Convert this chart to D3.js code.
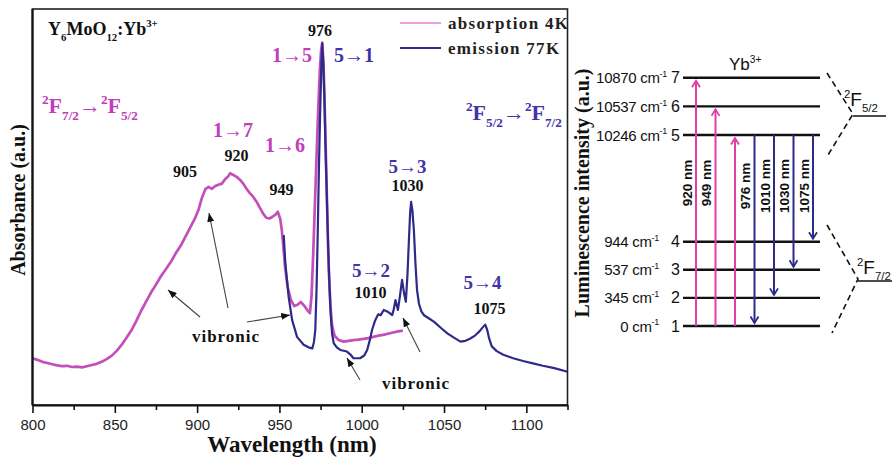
<!DOCTYPE html>
<html>
<head>
<meta charset="utf-8">
<script src="https://cdn.jsdelivr.net/npm/d3@7"></script>
<style>
  body { margin: 0; background: #fff; }
  svg { display: block; }
</style>
</head>
<body>
<svg id="chart" width="893" height="458"></svg>
<script>
// ---- spectra (wavelength in nm, intensity in arbitrary units) ----
const absWavelength = [800, 803, 806, 809, 812, 815, 818, 821, 824, 827, 830, 833, 836, 839, 842, 845, 848, 851, 854, 857, 860, 863, 866, 869, 872, 875, 878, 881, 884, 887, 890, 893, 896, 899, 901, 903, 905, 907, 909, 911, 913, 915, 917, 919, 920, 922, 924, 926, 928, 930, 932, 934, 936, 938, 940, 942, 944, 946, 948, 949, 950.5, 951.5, 952.5, 953.5, 955, 957, 959, 961, 963, 965, 967, 968.5, 969.5, 970.5, 971.5, 972.5, 973.5, 974.5, 975.3, 976, 976.8, 977.6, 978.4, 979.2, 980, 981, 982, 983.5, 986, 989, 992, 995, 998, 1001, 1004, 1007, 1010, 1013, 1016, 1019, 1022, 1025];
const absValue      = [11.8, 11.4, 10.9, 10.6, 10.3, 10.0, 9.8, 9.9, 9.6, 9.7, 9.5, 9.8, 10.1, 10.4, 10.9, 11.6, 12.4, 13.6, 15.1, 16.9, 18.8, 21.2, 23.8, 26.1, 28.4, 30.4, 32.5, 34.3, 36.1, 38.3, 40.2, 42.6, 45.0, 47.4, 49.5, 52.4, 54.5, 55.1, 54.6, 55.3, 55.6, 55.9, 57.0, 57.8, 58.5, 58.1, 57.6, 56.9, 55.9, 54.6, 53.5, 52.6, 51.4, 49.9, 48.4, 47.3, 47.1, 47.6, 48.2, 48.8, 47.0, 44.0, 39.5, 34.5, 29.8, 26.5, 25.0, 25.3, 26.0, 25.1, 23.9, 23.2, 27.5, 38.0, 50.0, 62.0, 74.0, 84.0, 89.5, 91.5, 86.0, 74.0, 60.0, 46.0, 34.0, 25.0, 20.0, 17.5, 16.4, 16.0, 16.2, 16.4, 16.5, 16.7, 16.9, 17.2, 17.5, 17.7, 18.0, 18.3, 18.6, 18.8];

const emWavelength = [952.6, 953.6, 955.6, 957.7, 960.7, 964.7, 968, 970, 971, 971.8, 972.6, 973.3, 974, 974.8, 975.5, 976, 976.6, 977.3, 978, 978.8, 979.6, 980.4, 981.2, 982, 983, 985, 987, 991, 993, 995, 999, 1001.5, 1003.3, 1005, 1006.3, 1008, 1010, 1011.5, 1013.4, 1015.5, 1017, 1018.5, 1019.5, 1020.5, 1022, 1023.2, 1024.5, 1025.8, 1026.8, 1027.8, 1028.7, 1029.4, 1030, 1030.8, 1031.7, 1032.6, 1033.6, 1034.8, 1036.3, 1038, 1040, 1044, 1048, 1052, 1056, 1060, 1063, 1066, 1069, 1071.5, 1073.5, 1075, 1076.2, 1077.4, 1079, 1082, 1086, 1092, 1098, 1104, 1110, 1117, 1125];
const emValue      = [42.9, 35.8, 27.3, 21.5, 17.2, 15.2, 14.5, 14.3, 16.0, 19.0, 30.0, 44.0, 60.0, 75.0, 86.0, 91.3, 87.0, 78.0, 65.0, 52.6, 40.0, 30.0, 22.5, 18.0, 15.6, 14.5, 13.9, 13.5, 12.8, 11.8, 11.8, 12.5, 13.9, 16.5, 19.0, 21.2, 22.9, 22.7, 24.0, 23.6, 23.2, 22.7, 24.2, 26.5, 24.0, 27.5, 31.6, 28.0, 26.1, 33.0, 42.0, 48.5, 51.3, 49.0, 44.0, 36.0, 29.0, 25.5, 23.6, 22.6, 22.1, 21.0, 19.5, 18.1, 17.0, 16.0, 16.2, 16.8, 17.6, 18.6, 19.6, 20.3, 19.0, 16.8, 14.8, 13.6, 12.7, 11.8, 11.1, 10.5, 9.9, 9.3, 8.4];

const xMajorTicks = [800, 850, 900, 950, 1000, 1050, 1100];
const xMinorTicks = [825, 875, 925, 975, 1025, 1075, 1125];

// ---- Yb3+ energy levels ----
const levelIndex  = [1, 2, 3, 4, 5, 6, 7];
const levelEnergy = ["0", "345", "537", "944", "10246", "10537", "10870"];
const transitions = [
  { kind: "abs", from: 1, to: 7, label: "920 nm" },
  { kind: "abs", from: 1, to: 6, label: "949 nm" },
  { kind: "abs", from: 1, to: 5, label: "" },
  { kind: "em",  from: 5, to: 1, label: "976 nm" },
  { kind: "em",  from: 5, to: 2, label: "1010 nm" },
  { kind: "em",  from: 5, to: 3, label: "1030 nm" },
  { kind: "em",  from: 5, to: 4, label: "1075 nm" }
];

const SERIF = "'Liberation Serif', 'Times New Roman', serif";
const SANS = "'Liberation Sans', Arial, sans-serif";
const MAGENTA = "#bb3cb2";
const MAGENTA_TXT = "#c23cbc";
const NAVY = "#2d2a88";
const NAVY_TXT = "#4234a8";
const PINK = "#e23ea6";

const svg = d3.select("#chart");

const defs = svg.append("defs");
defs.append("marker")
  .attr("id", "headBlack").attr("viewBox", "0 0 10 8")
  .attr("refX", 10).attr("refY", 4)
  .attr("markerUnits", "userSpaceOnUse")
  .attr("markerWidth", 9).attr("markerHeight", 7)
  .attr("orient", "auto")
  .append("path").attr("d", "M0,0 L10,4 L0,8 Z").attr("fill", "#111");
[["headPink", PINK], ["headNavy", NAVY]].forEach(([id, c]) => {
  defs.append("marker")
    .attr("id", id).attr("viewBox", "-1 -5 9 10")
    .attr("refX", 6.5).attr("refY", 0)
    .attr("markerUnits", "userSpaceOnUse")
    .attr("markerWidth", 9).attr("markerHeight", 10)
    .attr("orient", "auto")
    .append("path").attr("d", "M0,-4 L6.5,0 L0,4")
    .attr("fill", "none").attr("stroke", c).attr("stroke-width", 1.8);
});

// rich text with sub/superscripts
function rich(sel, parts, size) {
  let shift = 0;
  parts.forEach(p => {
    const target = p.sub ? size * 0.32 : p.sup ? -size * 0.42 : 0;
    sel.append("tspan")
      .attr("dy", target - shift)
      .attr("font-size", (p.sub || p.sup) ? size * 0.6 : size)
      .text(p.t);
    shift = target;
  });
  return sel;
}

// ---- spectrum panel ----
const plot = { left: 32.5, right: 567.5, top: 9, bottom: 405 };
const x = d3.scaleLinear().domain([800, 1125]).range([plot.left, plot.right]);
const y = d3.scaleLinear().domain([0, 100]).range([plot.bottom, plot.top]);

const g = svg.append("g");

const line = d3.line().x(d => x(d[0])).y(d => y(d[1]));
const absData = absWavelength.map((w, i) => [w, absValue[i]]);
const emData = emWavelength.map((w, i) => [w, emValue[i]]);

g.append("path").datum(absData)
  .attr("d", line).attr("fill", "none")
  .attr("stroke", MAGENTA).attr("stroke-width", 2.7)
  .attr("stroke-linejoin", "round").attr("opacity", 0.9);
g.append("path").datum(emData)
  .attr("d", line).attr("fill", "none")
  .attr("stroke", NAVY).attr("stroke-width", 2.2)
  .attr("stroke-linejoin", "round");

// frame
g.append("rect")
  .attr("x", plot.left).attr("y", plot.top)
  .attr("width", plot.right - plot.left).attr("height", plot.bottom - plot.top)
  .attr("fill", "none").attr("stroke", "#222").attr("stroke-width", 1.6);

// bottom axis
const xAxis = d3.axisBottom(x).tickValues(xMajorTicks).tickFormat(d3.format("d"))
  .tickSize(8).tickSizeOuter(0).tickPadding(6);
const axG = g.append("g").attr("transform", `translate(0,${plot.bottom})`).call(xAxis);
axG.select(".domain").attr("stroke", "#111").attr("stroke-width", 2);
axG.selectAll(".tick line").attr("stroke", "#111").attr("stroke-width", 1.6);
axG.selectAll(".tick text")
  .attr("font-family", SANS).attr("font-size", 15).attr("fill", "#222");
g.append("g").attr("transform", `translate(0,${plot.bottom})`)
  .call(d3.axisBottom(x).tickValues(xMinorTicks).tickSize(5).tickFormat(""))
  .call(s => s.select(".domain").remove())
  .selectAll(".tick line").attr("stroke", "#111").attr("stroke-width", 1.6);
// left edge heavier
g.append("line")
  .attr("x1", plot.left).attr("x2", plot.left)
  .attr("y1", plot.top).attr("y2", plot.bottom)
  .attr("stroke", "#111").attr("stroke-width", 2.2);

// axis titles
svg.append("text")
  .attr("x", 292).attr("y", 452).attr("text-anchor", "middle")
  .attr("font-family", SERIF).attr("font-weight", "bold").attr("font-size", 23)
  .attr("fill", "#111").text("Wavelength (nm)");
svg.append("text")
  .attr("transform", "translate(25,200) rotate(-90)").attr("text-anchor", "middle")
  .attr("font-family", SERIF).attr("font-weight", "bold").attr("font-size", 20)
  .attr("fill", "#111").text("Absorbance (a.u.)");
svg.append("text")
  .attr("transform", "translate(589,193) rotate(-90)").attr("text-anchor", "middle")
  .attr("font-family", SERIF).attr("font-weight", "bold").attr("font-size", 20)
  .attr("fill", "#111").text("Luminescence intensity (a.u.)");

// legend
const legend = [
  { label: "absorption 4K", color: "#e57fd6", width: 1.6, y: 23 },
  { label: "emission 77K", color: NAVY, width: 2.2, y: 48 }
];
legend.forEach(d => {
  svg.append("line").attr("x1", 400).attr("x2", 441).attr("y1", d.y).attr("y2", d.y)
    .attr("stroke", d.color).attr("stroke-width", d.width);
  svg.append("text").attr("x", 448).attr("y", d.y + 5.5)
    .attr("font-family", SERIF).attr("font-weight", "bold").attr("font-size", 17)
    .attr("letter-spacing", 1.3).attr("fill", "#222").text(d.label);
});

// compound and manifold labels
rich(svg.append("text").attr("x", 48).attr("y", 35)
  .attr("font-family", SERIF).attr("font-weight", "bold").attr("fill", "#111"),
  [{ t: "Y" }, { t: "6", sub: true }, { t: "MoO" }, { t: "12", sub: true }, { t: ":Yb" }, { t: "3+", sup: true }], 18);
rich(svg.append("text").attr("x", 42).attr("y", 113)
  .attr("font-family", SERIF).attr("font-weight", "bold").attr("fill", MAGENTA_TXT),
  [{ t: "2", sup: true }, { t: "F" }, { t: "7/2", sub: true }, { t: "\u2192" }, { t: "2", sup: true }, { t: "F" }, { t: "5/2", sub: true }], 22);
rich(svg.append("text").attr("x", 466).attr("y", 120)
  .attr("font-family", SERIF).attr("font-weight", "bold").attr("fill", NAVY_TXT),
  [{ t: "2", sup: true }, { t: "F" }, { t: "5/2", sub: true }, { t: "\u2192" }, { t: "2", sup: true }, { t: "F" }, { t: "7/2", sub: true }], 22);

// peak annotations
const notes = [
  { t: "976",  x: 320,   y: 36,  c: "#111", s: 16 },
  { t: "1\u21925", x: 292, y: 62, c: MAGENTA_TXT, s: 20 },
  { t: "5\u21921", x: 354, y: 62, c: NAVY_TXT, s: 20 },
  { t: "1\u21927", x: 233, y: 137, c: MAGENTA_TXT, s: 20 },
  { t: "920",  x: 236.5, y: 161, c: "#111", s: 16 },
  { t: "905",  x: 185,   y: 177, c: "#111", s: 16 },
  { t: "1\u21926", x: 285, y: 152, c: MAGENTA_TXT, s: 20 },
  { t: "949",  x: 281.5, y: 195, c: "#111", s: 16 },
  { t: "5\u21923", x: 407.5, y: 173, c: NAVY_TXT, s: 19 },
  { t: "1030", x: 407.5, y: 191, c: "#111", s: 16 },
  { t: "5\u21922", x: 371, y: 277, c: NAVY_TXT, s: 19 },
  { t: "1010", x: 370.5, y: 298, c: "#111", s: 16 },
  { t: "5\u21924", x: 482.5, y: 289, c: NAVY_TXT, s: 19 },
  { t: "1075", x: 489.5, y: 314, c: "#111", s: 16 },
  { t: "vibronic", x: 226, y: 342, c: "#111", s: 17, ls: 1 },
  { t: "vibronic", x: 416, y: 389, c: "#111", s: 17, ls: 1 }
];
svg.selectAll("text.note").data(notes).join("text")
  .attr("class", "note")
  .attr("x", d => d.x).attr("y", d => d.y)
  .attr("text-anchor", "middle")
  .attr("font-family", SERIF).attr("font-weight", "bold")
  .attr("font-size", d => d.s).attr("letter-spacing", d => d.ls || 0)
  .attr("fill", d => d.c).text(d => d.t);

// pointers to the vibronic features
const pointers = [
  [200, 317, 168, 290],
  [228, 308, 209, 213],
  [247, 322, 290, 315],
  [360, 380, 347, 358],
  [420, 352, 403, 318]
];
svg.selectAll("line.pointer").data(pointers).join("line")
  .attr("class", "pointer")
  .attr("x1", d => d[0]).attr("y1", d => d[1])
  .attr("x2", d => d[2]).attr("y2", d => d[3])
  .attr("stroke", "#444").attr("stroke-width", 1.1)
  .attr("marker-end", "url(#headBlack)");

// ---- energy level diagram ----
const levelY = i => i <= 4
  ? d3.scaleLinear().domain([1, 4]).range([326, 241.7])(i)
  : d3.scaleLinear().domain([5, 7]).range([135, 77.7])(i);
const levelX = [683, 820];
const arrowX = d3.scalePoint().domain(d3.range(transitions.length)).range([696, 813]);

const diag = svg.append("g");
diag.selectAll("line.level").data(levelIndex).join("line")
  .attr("class", "level")
  .attr("x1", levelX[0]).attr("x2", levelX[1])
  .attr("y1", d => levelY(d)).attr("y2", d => levelY(d))
  .attr("stroke", "#111").attr("stroke-width", 2.4);

levelIndex.forEach((n, i) => {
  const yy = levelY(n) + 5.5;
  diag.append("text").attr("x", 680).attr("y", yy).attr("text-anchor", "end")
    .attr("font-family", SANS).attr("font-size", 16).attr("fill", "#111").text(n);
  const t = diag.append("text").attr("x", n >= 5 ? 667 : 659).attr("y", yy)
    .attr("text-anchor", "end").attr("font-family", SANS).attr("fill", "#111")
    .attr("letter-spacing", -0.3);
  rich(t, [{ t: levelEnergy[i] + " cm" }, { t: "-1", sup: true }], 15);
});

rich(diag.append("text").attr("x", 729).attr("y", 70)
  .attr("font-family", SANS).attr("fill", "#111"),
  [{ t: "Yb" }, { t: "3+", sup: true }], 17);

transitions.forEach((tr, i) => {
  const ax = arrowX(i);
  const isAbs = tr.kind === "abs";
  const yStart = levelY(tr.from);
  const yEnd = levelY(tr.to) + (isAbs ? 3 : -3);
  diag.append("line")
    .attr("x1", ax).attr("x2", ax).attr("y1", yStart).attr("y2", yEnd)
    .attr("stroke", isAbs ? PINK : NAVY).attr("stroke-width", 2)
    .attr("marker-end", `url(#${isAbs ? "headPink" : "headNavy"})`);
  if (tr.label) {
    diag.append("text")
      .attr("transform", `translate(${ax - 9},${isAbs ? 183 : 186}) rotate(-90)`)
      .attr("text-anchor", "middle").attr("dy", "0.35em")
      .attr("font-family", SANS).attr("font-weight", "bold").attr("font-size", 13.5)
      .attr("fill", "#111").text(tr.label);
  }
});

// manifold brackets
const brackets = [
  { pts: [[827, 73], [853, 114], [828, 155]], bar: [853, 886, 116], tx: 844, ty: 106,
    parts: [{ t: "2", sup: true }, { t: "F" }, { t: "5/2", sub: true }] },
  { pts: [[827, 225], [858, 279], [832, 333]], bar: [858, 892, 281], tx: 857, ty: 274,
    parts: [{ t: "2", sup: true }, { t: "F" }, { t: "7/2", sub: true }] }
];
brackets.forEach(b => {
  diag.append("path").attr("d", d3.line()(b.pts))
    .attr("fill", "none").attr("stroke", "#111").attr("stroke-width", 1.6)
    .attr("stroke-dasharray", "6,4");
  diag.append("line").attr("x1", b.bar[0]).attr("x2", b.bar[1])
    .attr("y1", b.bar[2]).attr("y2", b.bar[2])
    .attr("stroke", "#111").attr("stroke-width", 1.6);
  rich(diag.append("text").attr("x", b.tx).attr("y", b.ty)
    .attr("font-family", SANS).attr("fill", "#111"), b.parts, 19);
});
</script>
</body>
</html>
